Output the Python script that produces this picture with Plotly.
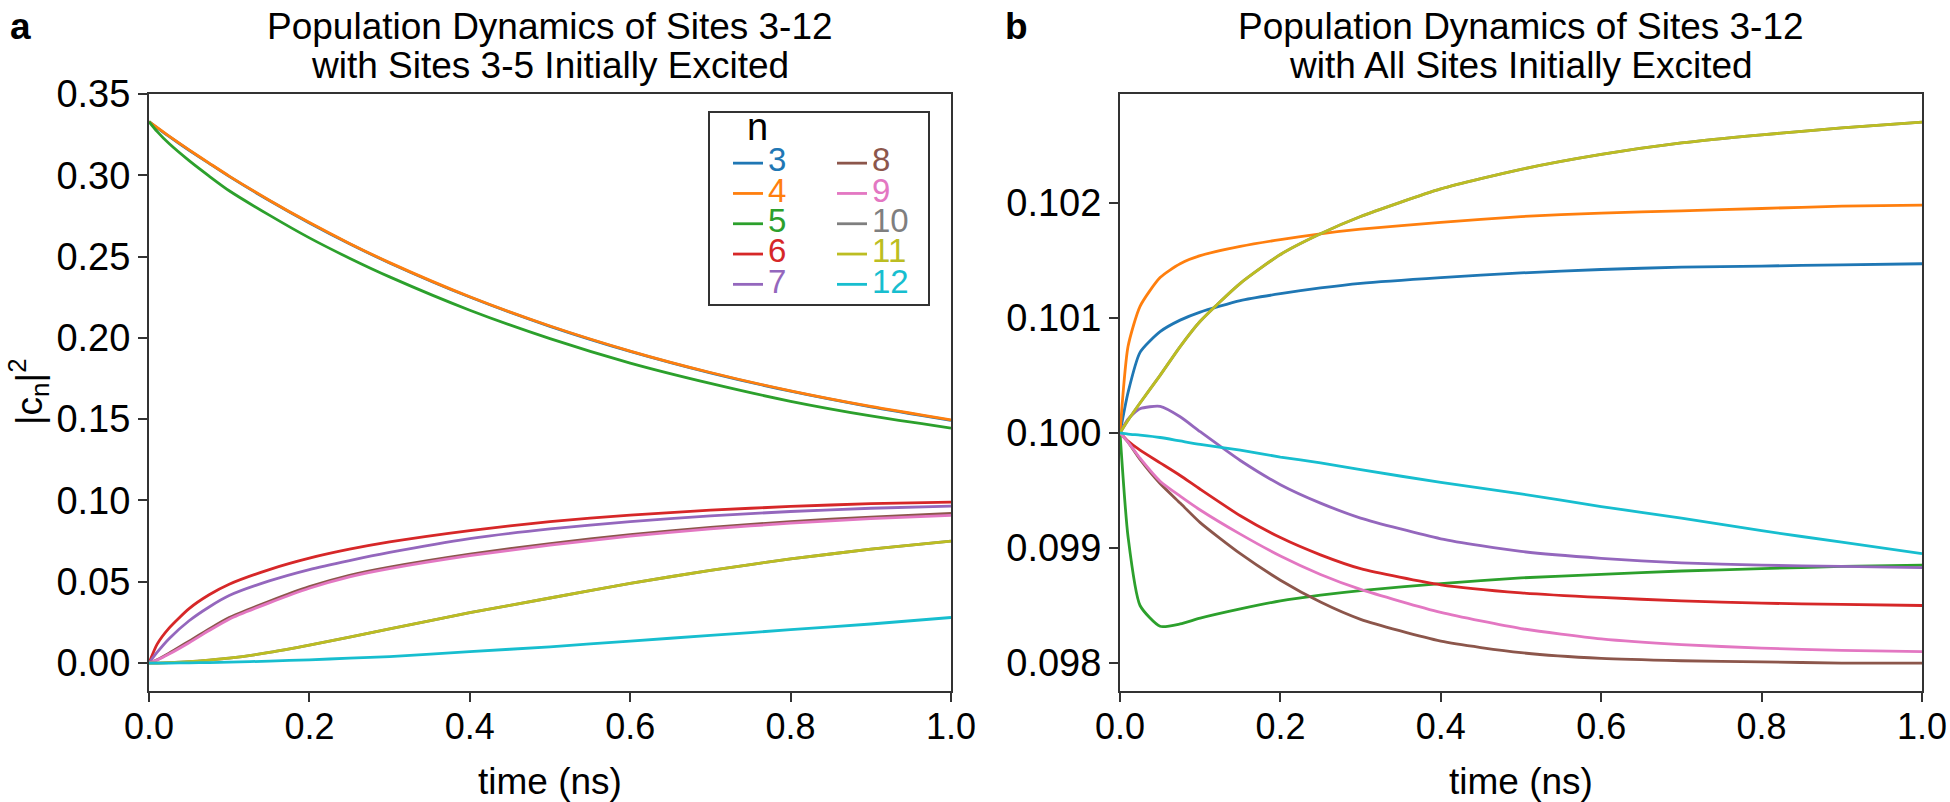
import plotly.graph_objects as go

# ---------------- data ----------------
time_ns = [0, 0.01, 0.025, 0.05, 0.075, 0.1, 0.15, 0.2, 0.25, 0.3, 0.4, 0.5, 0.6, 0.7, 0.8, 0.9, 1.0]
sites = [3, 4, 5, 6, 7, 8, 9, 10, 11, 12]
colors = ["#1f77b4", "#ff7f0e", "#2ca02c", "#d62728", "#9467bd",
          "#8c564b", "#e377c2", "#7f7f7f", "#bcbd22", "#17becf"]

# panel a: sites 3-5 initially excited
a_n3 = [.333, .3292, .3239, .3154, .3073, .2993, .2845, .2707, .2579, .2461, .2251, .2071, .1917, .1785, .1672, .1576, .1493]
a_n4 = [.333, .3294, .3241, .3156, .3075, .2995, .2847, .2709, .2581, .2463, .2253, .2073, .1919, .1787, .1674, .1578, .1495]
a_n5 = [.333, .327, .3195, .309, .2995, .2905, .2755, .2615, .249, .2375, .217, .1995, .1845, .172, .161, .152, .1445]
a_n6 = [0, .0115, .0215, .0335, .042, .0485, .0575, .0645, .070, .0745, .0815, .087, .091, .094, .0963, .098, .099]
a_n7 = [0, .0065, .015, .026, .0345, .0415, .0505, .0575, .063, .068, .0765, .0825, .087, .0905, .0932, .0952, .0965]
a_n8 = [0, .002, .006, .0135, .021, .028, .038, .047, .054, .059, .067, .0735, .079, .0835, .087, .0898, .092]
a_n9 = [0, .0018, .0055, .0125, .020, .027, .037, .046, .053, .058, .066, .0725, .078, .0825, .086, .0888, .0908]
a_n10 = [0, 0, .0002, .0008, .0018, .003, .0065, .011, .016, .021, .031, .040, .049, .057, .064, .070, .075]
a_n11 = [0, 0, .0002, .0008, .0018, .003, .0065, .011, .016, .021, .031, .040, .049, .057, .064, .070, .075]
a_n12 = [0, 0, 0, .0001, .0003, .0005, .0012, .002, .003, .004, .007, .010, .0135, .017, .0205, .024, .028]

# panel b: all sites initially excited
b_n3 = [.1, .10035, .1007, .10088, .10098, .10105, .10115, .10121, .10126, .1013, .10135, .10139, .10142, .10144, .10145, .10146, .10147]
b_n4 = [.1, .10075, .1011, .10135, .10147, .10154, .10162, .10168, .10173, .10177, .10183, .10188, .10191, .10193, .10195, .10197, .10198]
b_n5 = [.1, .0991, .0985, .09832, .09834, .09839, .09847, .09854, .09859, .09863, .09869, .09874, .09877, .0988, .09882, .09884, .09885]
b_n6 = [.1, .09993, .09985, .09974, .09963, .09951, .09928, .09909, .09894, .09882, .09868, .09861, .09857, .09854, .09852, .09851, .0985]
b_n7 = [.1, .10012, .10021, .10023, .10014, .10001, .09976, .09955, .09939, .09926, .09908, .09897, .09891, .09887, .09885, .09884, .09883]
b_n8 = [.1, .09992, .09977, .09956, .09939, .09922, .09895, .09872, .09853, .09838, .09819, .09809, .09804, .09802, .09801, .098, .098]
b_n9 = [.1, .09992, .09978, .09958, .09945, .09933, .09912, .09893, .09877, .09864, .09844, .0983, .09821, .09816, .09813, .09811, .0981]
b_n10 = [.1, .10011, .10026, .1005, .10075, .10097, .1013, .10155, .10173, .10188, .10212, .10229, .10242, .10252, .10259, .10265, .1027]
b_n11 = [.1, .10011, .10026, .1005, .10075, .10097, .1013, .10155, .10173, .10188, .10212, .10229, .10242, .10252, .10259, .10265, .1027]
b_n12 = [.1, .09999, .09998, .09996, .09993, .0999, .09985, .09979, .09974, .09968, .09957, .09947, .09936, .09926, .09915, .09905, .09895]

panel_a = [a_n3, a_n4, a_n5, a_n6, a_n7, a_n8, a_n9, a_n10, a_n11, a_n12]
panel_b = [b_n3, b_n4, b_n5, b_n6, b_n7, b_n8, b_n9, b_n10, b_n11, b_n12]

x_ticks = [0.0, 0.2, 0.4, 0.6, 0.8, 1.0]
a_yticks = [0.00, 0.05, 0.10, 0.15, 0.20, 0.25, 0.30, 0.35]
b_yticks = [0.098, 0.099, 0.100, 0.101, 0.102]

title_a = ["Population Dynamics of Sites 3-12", "with Sites 3-5 Initially Excited"]
title_b = ["Population Dynamics of Sites 3-12", "with All Sites Initially Excited"]
x_title = "time (ns)"
y_title = "|c<sub>n</sub>|<sup>2</sup>"
legend_title = "n"

# ---------------- figure ----------------
W, H = 1950, 802
FONT = "Liberation Sans, Arial, Helvetica, sans-serif"
AX = "#333333"
YTICK_SIZE = 38
XTICK_SIZE = 36
TITLE_SIZE = 37


def px(x):
    return x / W


def py(y):
    return 1 - y / H


fig = go.Figure()

for i, (n, c) in enumerate(zip(sites, colors)):
    leg = "legend" if i < 5 else "legend2"
    fig.add_trace(go.Scatter(
        x=time_ns, y=panel_a[i], mode="lines",
        line=dict(color=c, width=2.8, shape="spline", smoothing=0.6),
        name=f'<span style="color:{c};font-size:33px">{n}</span>',
        legend=leg, xaxis="x", yaxis="y", showlegend=True))

for i, (n, c) in enumerate(zip(sites, colors)):
    fig.add_trace(go.Scatter(
        x=time_ns, y=panel_b[i], mode="lines",
        line=dict(color=c, width=2.8, shape="spline", smoothing=0.6),
        name=str(n), xaxis="x2", yaxis="y2", showlegend=False))

common_x = dict(range=[0, 1], tickvals=x_ticks, tickformat=".1f", showgrid=False,
                zeroline=False, showline=True, mirror=True, linecolor=AX, linewidth=2,
                ticks="outside", ticklen=9, tickwidth=2, tickcolor=AX,
                tickfont=dict(family=FONT, size=XTICK_SIZE, color="black"),
                ticklabelstandoff=-6, automargin=False)
common_y = dict(showgrid=False, zeroline=False, showline=True, mirror=True, linecolor=AX,
                linewidth=2, ticks="outside", ticklen=9, tickwidth=2, tickcolor=AX,
                tickfont=dict(family=FONT, size=YTICK_SIZE, color="black"), automargin=False)

y_dom = [py(691), py(94)]
leg_common = dict(xanchor="left", yanchor="top", bgcolor="rgba(0,0,0,0)", borderwidth=0,
                  font=dict(family=FONT, size=21), tracegroupgap=0, itemwidth=30)
fig.update_layout(
    template="none",
    width=W, height=H,
    margin=dict(l=0, r=0, t=0, b=0, autoexpand=False),
    paper_bgcolor="white", plot_bgcolor="white",
    font=dict(family=FONT, color="black"),
    xaxis=dict(domain=[px(149), px(951)], anchor="y", **common_x),
    xaxis2=dict(domain=[px(1120), px(1922)], anchor="y2", **common_x),
    yaxis=dict(domain=y_dom, anchor="x", range=[-0.0172, 0.350], tickvals=a_yticks,
               tickformat=".2f", **common_y),
    yaxis2=dict(domain=y_dom, anchor="x2", range=[0.097757, 0.102945], tickvals=b_yticks,
                tickformat=".3f", **common_y),
    legend=dict(x=px(728), y=py(143), **leg_common),
    legend2=dict(x=px(832), y=py(143), **leg_common),
    showlegend=True,
)

# legend frame and title
fig.add_shape(type="rect", xref="paper", yref="paper",
              x0=px(709), x1=px(929), y0=py(305), y1=py(112),
              line=dict(color=AX, width=2), fillcolor="rgba(0,0,0,0)")
fig.add_annotation(text=legend_title, x=px(757), y=py(127), xref="paper", yref="paper",
                   xanchor="center", yanchor="middle", showarrow=False,
                   font=dict(family=FONT, size=38, color="black"))

# panel titles
for title, cx in [(title_a, (149 + 951) / 2), (title_b, (1120 + 1922) / 2)]:
    for line, yc in zip(title, [27, 66]):
        fig.add_annotation(text=line, x=px(cx), y=py(yc), xref="paper", yref="paper",
                           xanchor="center", yanchor="middle", showarrow=False,
                           font=dict(family=FONT, size=TITLE_SIZE, color="black"))

# axis titles
for cx in [(149 + 951) / 2, (1120 + 1922) / 2]:
    fig.add_annotation(text=x_title, x=px(cx), y=py(781), xref="paper", yref="paper",
                       xanchor="center", yanchor="middle", showarrow=False,
                       font=dict(family=FONT, size=TITLE_SIZE, color="black"))
fig.add_annotation(text=y_title, x=px(28), y=py(392), xref="paper", yref="paper",
                   xanchor="center", yanchor="middle", showarrow=False, textangle=-90,
                   font=dict(family=FONT, size=TITLE_SIZE, color="black"))

# panel letters
for letter, cx in [("a", 20), ("b", 1017)]:
    fig.add_annotation(text=f"<b>{letter}</b>", x=px(cx), y=py(27), xref="paper", yref="paper",
                       xanchor="center", yanchor="middle", showarrow=False,
                       font=dict(family=FONT, size=TITLE_SIZE, color="black"))

fig.write_html("out.html",
               config={"displayModeBar": False},
               post_script="document.body.style.margin='0px';"
                           "document.body.style.overflow='hidden';")
